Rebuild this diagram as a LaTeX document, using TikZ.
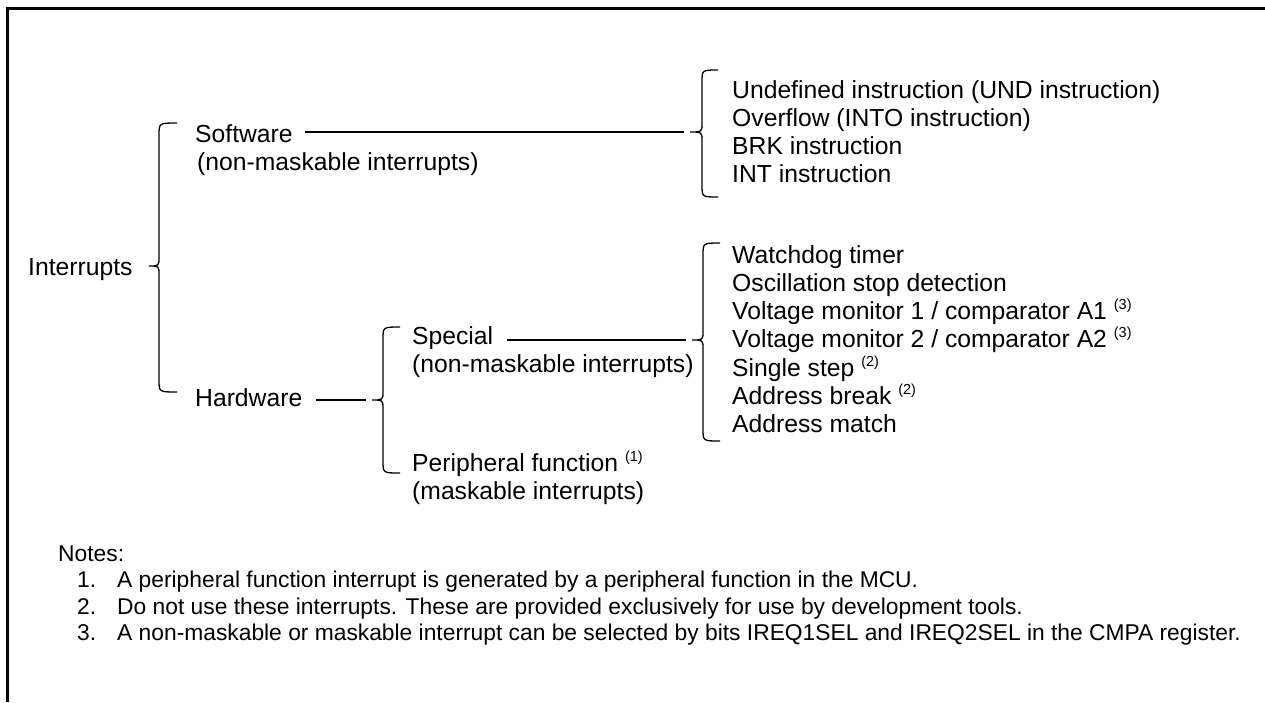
\documentclass[tikz,border=0pt]{standalone}
\usepackage{fontspec}
\setmainfont{Liberation Sans}
\newcommand\supnum[1]{\raisebox{10pt}{\fontsize{14.5}{14.5}\selectfont #1}}
\begin{document}
\begin{tikzpicture}[x=1pt,y=-1pt,
  txt/.style={inner sep=0pt,anchor=base west,font=\fontsize{24.7}{28}\selectfont},
  note/.style={inner sep=0pt,anchor=base west,font=\fontsize{22.8}{26}\selectfont},
  conn/.style={line width=1.3pt},
  brc/.style={line width=1.3pt},
  frame/.style={line width=3pt}]
\useasboundingbox (0,0) rectangle (1265,702);
\draw[frame] (7.5,702) -- (7.5,8) -- (1265,8);

% args: x, top, bottom, mid, tipx, curlx
\def\bracepath#1#2#3#4#5#6{%
  \draw[brc] (#6,#2) .. controls (#1,#2) and (#1,#2) .. (#1,#2+12) -- (#1,#4-9)
     .. controls (#1,#4) and (#1,#4) .. (#5,#4)
     .. controls (#1,#4) and (#1,#4) .. (#1,#4+9) -- (#1,#3-12)
     .. controls (#1,#3) and (#1,#3) .. (#6,#3);}
\bracepath{159}{123}{392}{266}{149}{177}
\bracepath{383}{327}{473}{400}{372}{400}
\bracepath{702}{70}{197}{132}{690}{718}
\bracepath{703}{243}{441}{340}{692}{720}

\coordinate (t1) at (149,266);
\coordinate (t2) at (366,400);
\coordinate (t3) at (684,132);
\coordinate (t4) at (686,340);

\node[txt] (int) at (28,275) {Interrupts};
\node[txt] (sw) at (195,142) {Software};
\node[txt] (swn) at (197,170.3) {(non-maskable interrupts)};
\node[txt] (hw) at (195,406) {Hardware};
\node[txt] (sp) at (412,344) {Special};
\node[txt] (spn) at (412,372.3) {(non-maskable interrupts)};
\node[txt] (pf) at (412,471) {Peripheral function \supnum{(1)}};
\node[txt] (pfn) at (412,499.3) {(maskable interrupts)};

\draw[conn] ([xshift=12pt]sw.east |- t3) -- (t3);
\draw[conn] ([xshift=14pt]hw.east |- t2) -- (t2);
\draw[conn] ([xshift=14pt]sp.east |- t4) -- (t4);

\node[txt] (a1) at (732,98) {Undefined instruction (UND instruction)};
\node[txt] (a2) at (732,126.3) {Overflow (INTO instruction)};
\node[txt] (a3) at (732,154.6) {BRK instruction};
\node[txt] (a4) at (732,182.9) {INT instruction};

\node[txt] (b1) at (732,263) {Watchdog timer};
\node[txt] (b2) at (732,291.3) {Oscillation stop detection};
\node[txt] (b3) at (732,319.6) {Voltage monitor 1 / comparator A1 \supnum{(3)}};
\node[txt] (b4) at (732,347.9) {Voltage monitor 2 / comparator A2 \supnum{(3)}};
\node[txt] (b5) at (732,376.2) {Single step \supnum{(2)}};
\node[txt] (b6) at (732,404.5) {Address break \supnum{(2)}};
\node[txt] (b7) at (732,432.8) {Address match};

\node[note] (nt) at (58,561) {Notes:};
\node[note] (n1) at (77,587.5) {\makebox[40pt][l]{1.}A peripheral function interrupt is generated by a peripheral function in the MCU.};
\node[note] (n2) at (77,614) {\makebox[40pt][l]{2.}Do not use these interrupts. These are provided exclusively for use by development tools.};
\node[note] (n3) at (77,640.5) {\makebox[40pt][l]{3.}A non-maskable or maskable interrupt can be selected by bits IREQ1SEL and IREQ2SEL in the CMPA register.};
\end{tikzpicture}
\end{document}
